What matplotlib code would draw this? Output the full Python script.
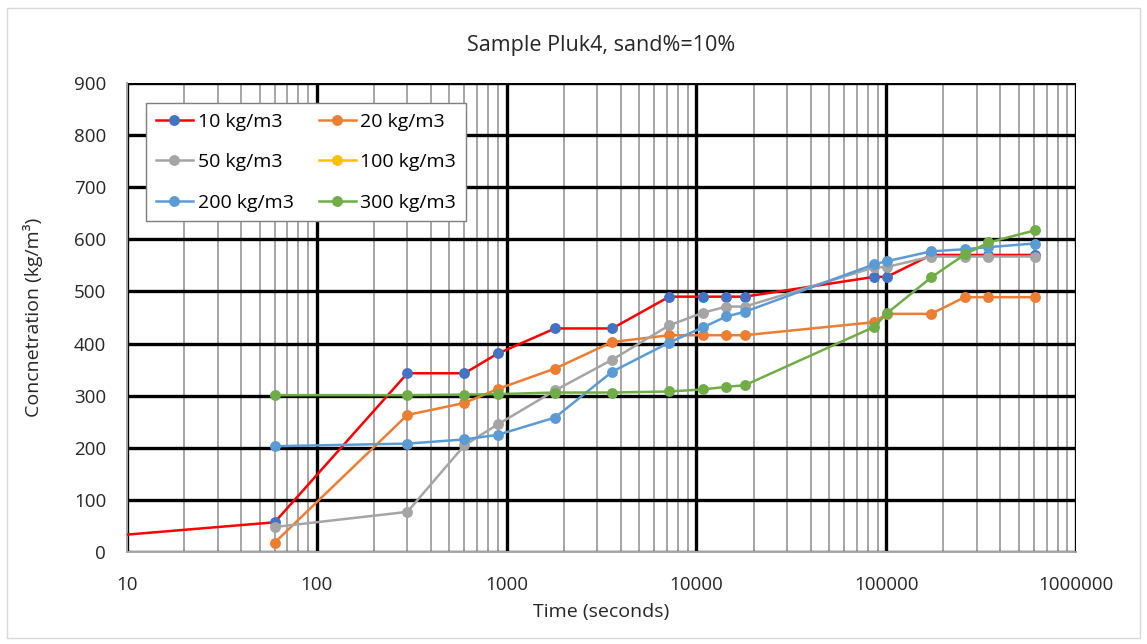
import numpy as np
import matplotlib.pyplot as plt
from matplotlib.patches import Rectangle
from matplotlib.ticker import LogLocator, NullFormatter, FixedLocator

####### ------- Data --------------------------------------------------
time_s = [60, 300, 600, 900, 1800, 3600, 7200, 10800, 14400, 18000,
          86400, 100800, 172800, 259200, 345600, 604800]

c10_time = [1] + time_s           ## first red point sits left of the axis (clipped)
c10 = [3, 57, 343, 343, 381, 429, 429, 490, 490, 490, 490,
       528, 528, 570, 570, 570, 570]
c20 = [18, 263, 286, 313, 352, 403, 416, 416, 416, 416,
       441, 457, 457, 489, 489, 489]
c50 = [48, 77, 205, 245, 310, 369, 435, 459, 471, 471,
       546, 547, 567, 567, 567, 567]
c100 = []                         ## in the legend, no visible points
c200 = [203, 208, 216, 225, 258, 346, 402, 431, 452, 461,
        552, 558, 577, 581, 585, 592]
c300 = [301, 301, 302, 303, 306, 306, 308, 312, 317, 320,
        432, 458, 527, 571, 594, 617]

labels = ['10 kg/m3', '20 kg/m3', '50 kg/m3', '100 kg/m3', '200 kg/m3', '300 kg/m3']
x_ticks = [10, 100, 1000, 10000, 100000, 1000000]

####### ------- Figure -------------------------------------------------
plt.rcParams['font.family'] = ['Open Sans', 'DejaVu Sans']
fig = plt.figure(figsize=(11.47, 6.44), dpi=100)
ax = fig.add_axes([127/1147, 1-552/644, (1076-127)/1147, (552-83)/644])

## outer chart border
fig.patches.append(Rectangle((7/1147, 6/644), 1133/1147, 630/644, transform=fig.transFigure,
                             fill=False, edgecolor='#D9D9D9', linewidth=1.0))

lw = 1.8
ms = 6.8
h10, = ax.plot(c10_time, c10, color='#FF0000', lw=lw, marker='o', ms=ms,
               mfc='#4472C4', mec='#4472C4', label=labels[0], zorder=5)
h20, = ax.plot(time_s, c20, color='#ED7D31', lw=lw, marker='o', ms=ms, label=labels[1], zorder=4)
h50, = ax.plot(time_s, c50, color='#A5A5A5', lw=lw, marker='o', ms=ms, label=labels[2], zorder=6)
h100, = ax.plot(time_s[:len(c100)], c100, color='#FFC000', lw=lw, marker='o', ms=ms,
                label=labels[3], zorder=3)
h200, = ax.plot(time_s, c200, color='#5B9BD5', lw=lw, marker='o', ms=ms, label=labels[4], zorder=7)
h300, = ax.plot(time_s, c300, color='#70AD47', lw=lw, marker='o', ms=ms, label=labels[5], zorder=8)

ax.set_xscale('log')
ax.set_xlim(10, 1e6)
ax.set_ylim(0, 900)
ax.set_yticks(np.arange(0, 901, 100))
ax.xaxis.set_major_locator(FixedLocator(x_ticks))
ax.set_xticklabels([str(t) for t in x_ticks])
ax.xaxis.set_minor_locator(LogLocator(base=10, subs=np.arange(2, 10)))
ax.xaxis.set_minor_formatter(NullFormatter())

ax.grid(True, which='major', color='black', linewidth=2.4, zorder=1)
ax.grid(True, which='minor', axis='x', color='#A6A6A6', linewidth=1.4, zorder=0)
ax.set_axisbelow(True)
ax.tick_params(which='both', length=0, labelsize=13.5, colors='#262626')
ax.tick_params(axis='y', pad=15)
ax.tick_params(axis='x', pad=17)
for side in ['top', 'right']:
    ax.spines[side].set_visible(False)
for side in ['left', 'bottom']:
    ax.spines[side].set_color('#A6A6A6')
    ax.spines[side].set_linewidth(1.4)

ax.set_title('Sample Pluk4, sand%=10%', fontsize=15.5, color='#262626', pad=23)
ax.set_xlabel('Time (seconds)', fontsize=14, color='#262626', labelpad=7)
ax.set_ylabel('Concnetration (kg/m³)', fontsize=14, color='#262626')
ax.yaxis.set_label_coords(-0.088, 0.5)

## row-wise legend order like the reference (matplotlib fills columns first)
leg = ax.legend([h10, h50, h200, h20, h100, h300],
                [labels[0], labels[2], labels[4], labels[1], labels[3], labels[5]],
                ncol=2, loc='upper left', bbox_to_anchor=(0.020, 0.957), fontsize=14,
                frameon=True, fancybox=False, edgecolor='#7F7F7F', framealpha=1,
                handlelength=1.9, columnspacing=1.3, labelspacing=1.15,
                borderpad=0.5, handletextpad=0.25, borderaxespad=0)
leg.get_frame().set_linewidth(1.0)
leg.set_zorder(20)

plt.savefig('out.png', dpi=100)
